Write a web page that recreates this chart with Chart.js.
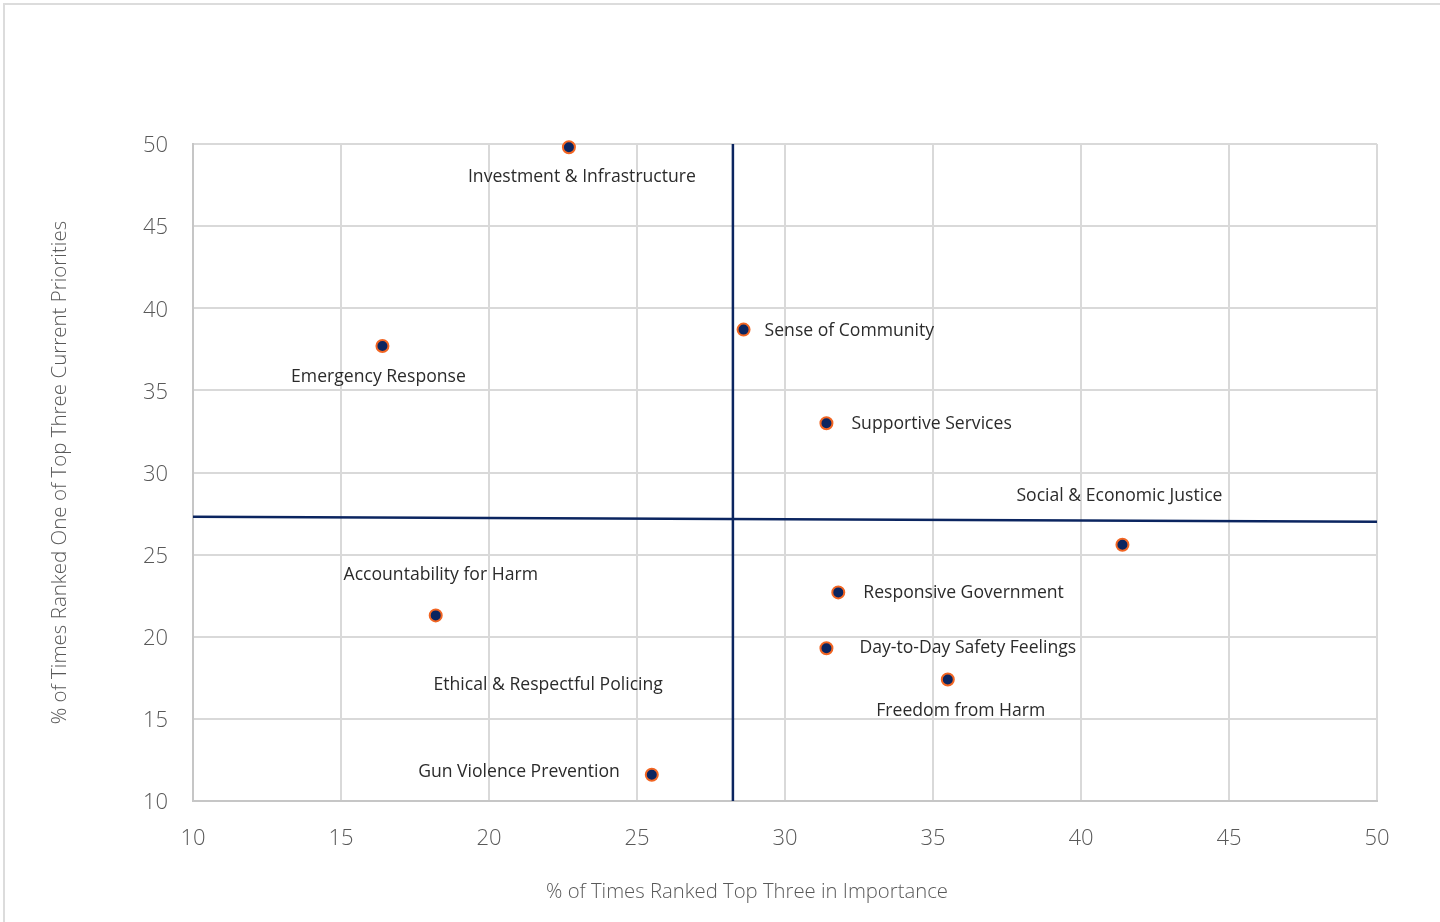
<!DOCTYPE html>
<html>
<head>
<meta charset="utf-8">
<script src="https://cdn.jsdelivr.net/npm/chart.js@4.4.0/dist/chart.umd.min.js"></script>
<style>
  html, body { margin: 0; padding: 0; background: #fff; overflow: hidden; }
  #frame { position: absolute; left: 3px; top: 3px; width: 1500px; height: 1000px;
           border-left: 2px solid #dcdcdc; border-top: 2px solid #dcdcdc; }
  #wrap { position: absolute; left: 0; top: 0; width: 1440px; height: 922px; }
</style>
</head>
<body>
<div id="frame"></div>
<div id="wrap"><canvas id="chart"></canvas></div>
<script>
const categories = [
  "Investment & Infrastructure", "Emergency Response", "Sense of Community",
  "Supportive Services", "Social & Economic Justice", "Accountability for Harm",
  "Responsive Government", "Day-to-Day Safety Feelings", "Freedom from Harm",
  "Gun Violence Prevention", "Ethical & Respectful Policing"
];
const importance = [22.7, 16.4, 28.6, 31.4, 41.4, 18.2, 31.8, 31.4, 35.5, 25.5, 22.0];
const currentPriority = [49.8, 37.7, 38.7, 33.0, 25.6, 21.3, 22.7, 19.3, 17.4, 11.6, 17.1];

// average reference lines
const avgImportance = [{ x: 28.24, y: 10 }, { x: 28.24, y: 50 }];
const avgPriority = [{ x: 10, y: 27.3 }, { x: 50, y: 27.0 }];

const axisMin = 10, axisMax = 50, axisStep = 5;
const xTitle = '% of Times Ranked Top Three in Importance';
const yTitle = '% of Times Ranked One of Top Three Current Priorities';

// label placement next to each point: [dx, dy, align]
const labelPlace = [
  [13, 30, 'center'], [-4, 31, 'center'], [21, 1, 'left'], [25, 1, 'left'],
  [-3, -49, 'center'], [5, -40, 'center'], [25, 1, 'left'], [33, 0, 'left'],
  [13, 32, 'center'], [-32, -3, 'right'], [0, 1, 'center']
];

const points = categories.map((c, i) => ({ x: importance[i], y: currentPriority[i], label: c }));

const pointLabels = {
  id: 'pointLabels',
  afterDatasetsDraw(chart) {
    const ctx = chart.ctx;
    const meta = chart.getDatasetMeta(2);
    ctx.save();
    ctx.font = '17.6px "Open Sans"';
    ctx.fillStyle = '#2b2b2b';
    ctx.textBaseline = 'middle';
    meta.data.forEach((el, i) => {
      const [dx, dy, align] = labelPlace[i];
      ctx.textAlign = align;
      ctx.fillText(categories[i], el.x + dx, el.y + dy);
    });
    // x axis title, sits a little left of the plot centre
    const a = chart.chartArea;
    ctx.font = '300 20.3px "Open Sans"';
    ctx.fillStyle = '#595959';
    ctx.textAlign = 'center';
    ctx.fillText(xTitle, (a.left + a.right) / 2 - 38, 892);
    ctx.restore();
  }
};

new Chart(document.getElementById('chart'), {
  type: 'scatter',
  data: {
    datasets: [
      { type: 'line', data: avgImportance, borderColor: '#0b2560', borderWidth: 2.5,
        pointRadius: 0, fill: false },
      { type: 'line', data: avgPriority, borderColor: '#0b2560', borderWidth: 2.5,
        pointRadius: 0, fill: false },
      { data: points, backgroundColor: '#0b2560', borderColor: '#f26522', borderWidth: 2,
        clip: false,
        pointRadius: categories.map((c, i) => i === categories.length - 1 ? 0 : 6) }
    ]
  },
  options: {
    responsive: true,
    maintainAspectRatio: false,
    animation: false,
    layout: { padding: { left: 0, top: 144, right: 63, bottom: 0 } },
    plugins: { legend: { display: false }, tooltip: { enabled: false } },
    scales: {
      x: {
        type: 'linear', min: axisMin, max: axisMax,
        afterFit(s) { s.height = 121; },
        ticks: { stepSize: axisStep, color: '#595959', padding: 25,
                 font: { family: 'Open Sans', size: 22, weight: 300 } },
        grid: { color: '#d9d9d9', lineWidth: 2, drawTicks: false },
        border: { color: '#c6c6c6', width: 2 }
      },
      y: {
        type: 'linear', min: axisMin, max: axisMax,
        afterFit(s) { s.width = 193; },
        ticks: { stepSize: axisStep, color: '#595959', padding: 25, labelOffset: 2,
                 font: { family: 'Open Sans', size: 22, weight: 300 } },
        grid: { color: '#d9d9d9', lineWidth: 2, drawTicks: false },
        border: { color: '#c6c6c6', width: 2 },
        title: { display: true, text: yTitle,
                 color: '#595959', padding: { top: 48 },
                 font: { family: 'Open Sans', size: 20.5, weight: 300 } }
      }
    }
  },
  plugins: [pointLabels]
});
</script>
</body>
</html>
